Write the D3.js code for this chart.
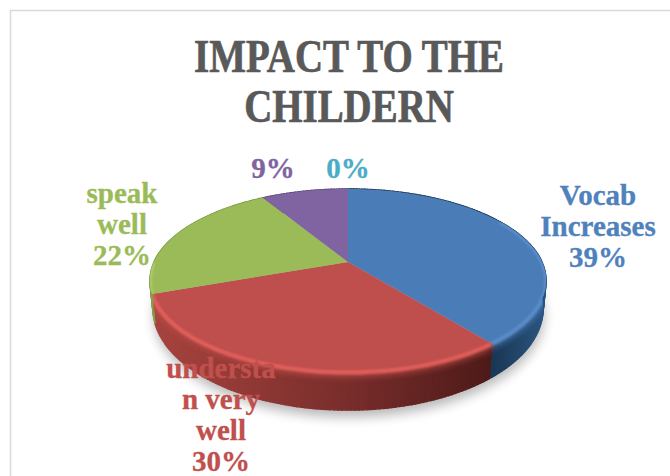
<!DOCTYPE html>
<html><head><meta charset="utf-8">
<script src="https://cdn.jsdelivr.net/npm/d3@7"></script>
<style>html,body{margin:0;padding:0;background:#fff;overflow:hidden}svg{display:block}
text{font-family:"Liberation Serif",serif;font-weight:700;text-anchor:middle}</style>
</head><body><svg id="c" width="670" height="476"></svg>
<script>
const titleLines = ["IMPACT TO THE", "CHILDERN"];
const categories = ["Vocab Increases", "understand very well", "speak well", "", ""];
const values = [39.3, 30.2, 21.9, 8.6, 0];
const labelLines = [["Vocab","Increases"],["understa","n very","well"],["speak","well"],[],[]];
const topColors = ["#4A7CB8","#BE4F4C","#9BBB59","#8064A2","#4BACC6"];
const labelColors = ["#4F81BD","#C0504D","#9BBB59","#8064A2","#4BACC6"];
const wallLeft = ["#2B5680","#A8443F","#84A04A","#6a5288","#3a8ca0"];
const wallRight = ["#1A3552","#4E1B19","#5f7534","#4a3a60","#2a6a7a"];

// layout (pixels)
const apex = {x:348, y:262}, kx = 194, ky = 87.8, persp = 0.202;
const labelPos = [{x:598,y:205},{x:221,y:378},{x:122,y:203},{x:273,y:178},{x:348,y:178}];
const lineH = 31;

const svg = d3.select("#c");
const defs = svg.append("defs");
const blur = (id,s)=>defs.append("filter").attr("id",id)
  .attr("x","-20%").attr("y","-20%").attr("width","140%").attr("height","140%")
  .append("feGaussianBlur").attr("stdDeviation",s);
blur("shadow",6); blur("soft",1.3); blur("soft2",3.5);

svg.append("path").attr("d","M670.5 10.5H10.5V476").attr("fill","none").attr("stroke","#D9D9D9").attr("stroke-width",1.5);

// perspective projection of the unit disc
const project = (a,r=1)=>{
  const x=r*Math.sin(a), y=-r*Math.cos(a), w=1-persp*y;
  return [apex.x+kx*x/w, apex.y+ky*y/w];
};
const lower = (a)=>{
  const p=project(a);
  return [apex.x+(p[0]-apex.x)*0.985, apex.y+(p[1]-apex.y)*1.11+26];
};
const line = d3.line();
const arcs = d3.pie().sort(null).value(d=>d)(values);
const samples = (s,e)=>{
  const n=Math.max(2,Math.ceil((e-s)/(Math.PI/180)));
  return d3.range(n+1).map(i=>s+(e-s)*i/n);
};
const full = samples(0,2*Math.PI);

// shadow
svg.append("path")
  .attr("d",line(full.map(a=>{const p=lower(a);return [p[0]+1,p[1]+7];}))+"Z")
  .attr("fill","#000").attr("opacity",.28).attr("filter","url(#shadow)");

// walls
const walls = svg.append("g");
const xs = d3.scaleLinear().domain([150,546]);
arcs.forEach((d,i)=>{
  if(d.endAngle<=d.startAngle) return;
  const col = xs.copy().range([wallLeft[i],wallRight[i]]).interpolate(d3.interpolateRgb).clamp(true);
  const colBlue = d3.scaleLinear().domain([546,490]).range([wallLeft[i],wallRight[i]]).clamp(true);
  const redCol = d3.scaleLinear().domain([150,350,490]).range([wallLeft[i],"#782D2B",wallRight[i]]).clamp(true);
  const fn = i===0?colBlue:(i===1?redCol:col);
  const as = samples(d.startAngle,d.endAngle);
  d3.pairs(as).forEach(([a,b])=>{
    const p=[project(a),project(b),lower(b),lower(a)];
    const c=fn((p[0][0]+p[1][0])/2);
    walls.append("path").attr("d",line(p)+"Z").attr("fill",c)
      .attr("stroke",c).attr("stroke-width",1.4);
  });
});

// clip of pie body
const clipBody = defs.append("clipPath").attr("id","body");
clipBody.append("path").attr("d",line(full.map(a=>project(a)))+"Z");
clipBody.append("path").attr("d",line(full.map(a=>lower(a)))+"Z");

// soft glow of the top colour falling on the wall
const glow = svg.append("g").attr("clip-path","url(#body)");
arcs.forEach((d,i)=>{
  const s=Math.max(d.startAngle,Math.PI*0.3), e=Math.min(d.endAngle,Math.PI*1.5);
  if(e<=s) return;
  glow.append("path").attr("d",line(samples(s,e).map(a=>project(a))))
    .attr("fill","none").attr("stroke",topColors[i]).attr("stroke-width",9)
    .attr("filter","url(#soft2)").attr("opacity",.85);
});

// top faces
const tops = svg.append("g");
arcs.forEach((d,i)=>{
  if(d.endAngle<=d.startAngle) return;
  const pts=[[apex.x,apex.y],...samples(d.startAngle,d.endAngle).map(a=>project(a))];
  tops.append("path").attr("d",line(pts)+"Z").attr("fill",topColors[i]);
});

// bevel highlight along the front rim
const bevel = svg.append("g").attr("clip-path","url(#body)");
const highlight = ["#5E90CC","#E8625E","#AFCF6C","#8F74B2","#5BBCD6"];
const bevelEnd = [0.62,1,1,1,1];
arcs.forEach((d,i)=>{
  if(d.endAngle<=d.startAngle) return;
  const s=Math.max(d.startAngle,Math.PI*0.33), e=Math.min(d.endAngle,Math.PI*1.5);
  if(e<=s) return;
  bevel.append("path")
    .attr("d",line(samples(s,e).map(a=>{
      const p=project(a); return [p[0],p[1]+0.5];
    })))
    .attr("fill","none").attr("stroke",highlight[i]).attr("stroke-width",4)
    .attr("filter","url(#soft)").attr("opacity",.9);
});

// title
svg.append("g").selectAll("text").data(titleLines).join("text")
  .attr("transform",(d,i)=>`translate(349,${72+i*50}) scale(0.846,1)`)
  .attr("font-size",46).attr("fill","#595959")
  .attr("stroke","#595959").attr("stroke-width",.7)
  .text(d=>d);

// data labels
const total = d3.sum(values);
const labels = svg.append("g");
values.forEach((v,i)=>{
  const lines=[...labelLines[i], d3.format(".0%")(v/total)];
  labels.append("g").selectAll("text").data(lines).join("text")
    .attr("x",labelPos[i].x).attr("y",(d,j)=>labelPos[i].y+j*lineH)
    .attr("font-size",29).attr("fill",labelColors[i])
    .attr("stroke",labelColors[i]).attr("stroke-width",.3).text(d=>d);
});
</script></body></html>
